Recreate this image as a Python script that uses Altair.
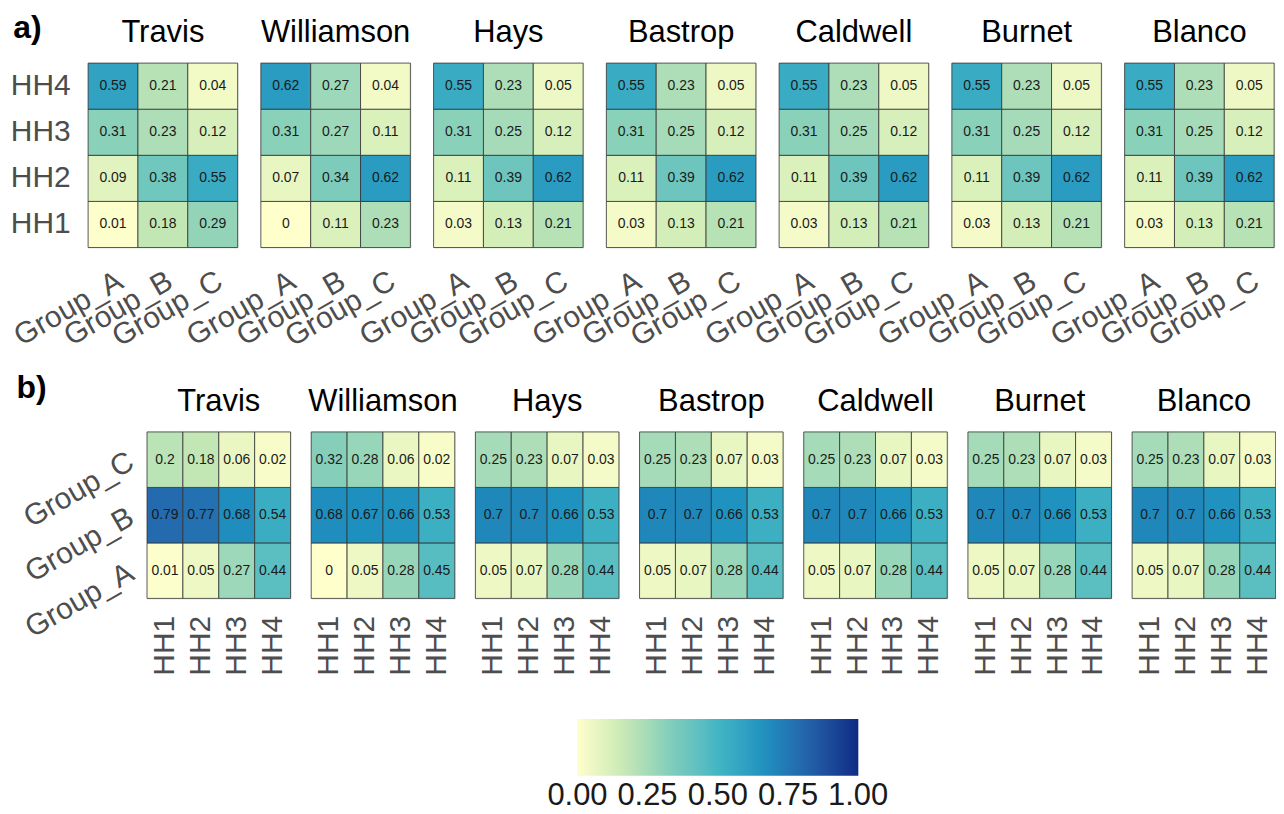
import altair as alt
import pandas as pd

counties = ["Travis", "Williamson", "Hays", "Bastrop", "Caldwell", "Burnet", "Blanco"]
hh_levels = ["HH1", "HH2", "HH3", "HH4"]
group_levels = ["Group_A", "Group_B", "Group_C"]

# Panel a): rows HH1..HH4, columns Group_A..Group_C
a_travis = [[0.01, 0.18, 0.29], [0.09, 0.38, 0.55], [0.31, 0.23, 0.12], [0.59, 0.21, 0.04]]
a_williamson = [[0.00, 0.11, 0.23], [0.07, 0.34, 0.62], [0.31, 0.27, 0.11], [0.62, 0.27, 0.04]]
a_hays = [[0.03, 0.13, 0.21], [0.11, 0.39, 0.62], [0.31, 0.25, 0.12], [0.55, 0.23, 0.05]]
a_bastrop = [[0.03, 0.13, 0.21], [0.11, 0.39, 0.62], [0.31, 0.25, 0.12], [0.55, 0.23, 0.05]]
a_caldwell = [[0.03, 0.13, 0.21], [0.11, 0.39, 0.62], [0.31, 0.25, 0.12], [0.55, 0.23, 0.05]]
a_burnet = [[0.03, 0.13, 0.21], [0.11, 0.39, 0.62], [0.31, 0.25, 0.12], [0.55, 0.23, 0.05]]
a_blanco = [[0.03, 0.13, 0.21], [0.11, 0.39, 0.62], [0.31, 0.25, 0.12], [0.55, 0.23, 0.05]]

# Panel b): rows Group_A..Group_C, columns HH1..HH4
b_travis = [[0.01, 0.05, 0.27, 0.44], [0.79, 0.77, 0.68, 0.54], [0.20, 0.18, 0.06, 0.02]]
b_williamson = [[0.00, 0.05, 0.28, 0.45], [0.68, 0.67, 0.66, 0.53], [0.32, 0.28, 0.06, 0.02]]
b_hays = [[0.05, 0.07, 0.28, 0.44], [0.70, 0.70, 0.66, 0.53], [0.25, 0.23, 0.07, 0.03]]
b_bastrop = [[0.05, 0.07, 0.28, 0.44], [0.70, 0.70, 0.66, 0.53], [0.25, 0.23, 0.07, 0.03]]
b_caldwell = [[0.05, 0.07, 0.28, 0.44], [0.70, 0.70, 0.66, 0.53], [0.25, 0.23, 0.07, 0.03]]
b_burnet = [[0.05, 0.07, 0.28, 0.44], [0.70, 0.70, 0.66, 0.53], [0.25, 0.23, 0.07, 0.03]]
b_blanco = [[0.05, 0.07, 0.28, 0.44], [0.70, 0.70, 0.66, 0.53], [0.25, 0.23, 0.07, 0.03]]

legend_ticks = [0.001, 0.25, 0.5, 0.75, 0.999]

# ColorBrewer YlGnBu (7 classes) used as a continuous gradient
palette_colors = ["#ffffcc", "#c7e9b4", "#7fcdbb", "#41b6c4", "#1d91c0", "#225ea8", "#0c2c84"]
palette_stops = [0, 1 / 6, 2 / 6, 3 / 6, 4 / 6, 5 / 6, 1]

a_tables = [a_travis, a_williamson, a_hays, a_bastrop, a_caldwell, a_burnet, a_blanco]
b_tables = [b_travis, b_williamson, b_hays, b_bastrop, b_caldwell, b_burnet, b_blanco]

rows_a = []
for county, tab in zip(counties, a_tables):
    for i, hh in enumerate(hh_levels):
        for j, g in enumerate(group_levels):
            rows_a.append({"county": county, "hh": hh, "group": g, "value": tab[i][j]})
df_a = pd.DataFrame(rows_a)

rows_b = []
for county, tab in zip(counties, b_tables):
    for i, g in enumerate(group_levels):
        for j, hh in enumerate(hh_levels):
            rows_b.append({"county": county, "hh": hh, "group": g, "value": tab[i][j]})
df_b = pd.DataFrame(rows_b)

FONT = "Liberation Sans"
AXIS_GREY = "#4D4D4D"
AX_FS = 30

legend = alt.Legend(
    orient="none", legendX=491, legendY=658, direction="horizontal",
    gradientLength=282, gradientThickness=57, gradientStrokeWidth=0,
    title=None, labelFontSize=31, labelColor="#1a1a1a", labelFont=FONT,
    values=legend_ticks, format=".2f", labelOffset=5, labelOverlap=False,
)
color = alt.Color("value:Q", scale=alt.Scale(domain=palette_stops, range=palette_colors,
                                              interpolate="lab"), legend=legend)

header = alt.Header(title=None, labelFontSize=31, labelColor="black", labelFont=FONT,
                    labelBaseline="alphabetic", labelPadding=-10)

first_cell = "datum.county == 'Travis' && datum.hh == 'HH4' && datum.group == 'Group_A'"
last_cell = "datum.county == 'Blanco' && datum.hh == 'HH4' && datum.group == 'Group_C'"
first_cell_b = "datum.county == 'Travis' && datum.hh == 'HH1' && datum.group == 'Group_C'"

# ---- row a ----
xa = alt.X("group:N", sort=group_levels, axis=alt.Axis(
    title=None, labelAngle=330, labelAlign="right", labelBaseline="top",
    labelFontSize=AX_FS, labelColor=AXIS_GREY, labelFont=FONT, labelPadding=18,
    ticks=False, tickSize=0, domain=False, grid=False, labelOverlap=False))
ya = alt.Y("hh:N", sort=list(reversed(hh_levels)), axis=alt.Axis(
    title=None, labelFontSize=AX_FS, labelColor=AXIS_GREY, labelFont=FONT, labelPadding=18,
    ticks=False, tickSize=0, domain=False, grid=False))

rect_a = alt.Chart().mark_rect(stroke="#333333", strokeWidth=0.8).encode(x=xa, y=ya, color=color)
text_a = alt.Chart().mark_text(fontSize=14, font=FONT, color="#1a1a1a").encode(
    x=xa, y=ya, text=alt.Text("value:Q", format=".2~f"))
tag_a = alt.Chart().transform_filter(first_cell).mark_text(
    text="a)", align="left", baseline="alphabetic", fontSize=32, fontWeight="bold",
    font=FONT, color="black").encode(x=alt.value(-75), y=alt.value(-25))
# invisible anchor that widens row a's right bound (used to offset row b when centred)
pad_a = alt.Chart().transform_filter(last_cell).mark_point(opacity=0, size=1).encode(
    x=alt.value(210.5), y=alt.value(10))

chart_a = alt.layer(rect_a, text_a, tag_a, pad_a, data=df_a).properties(width=150, height=185).facet(
    column=alt.Column("county:N", sort=counties, header=header),
    spacing=23.3, bounds="flush",
)

# ---- row b ----
xb = alt.X("hh:N", sort=hh_levels, axis=alt.Axis(
    title=None, labelAngle=270, labelAlign="right", labelBaseline="middle",
    labelFontSize=AX_FS, labelColor=AXIS_GREY, labelFont=FONT, labelPadding=17,
    ticks=False, tickSize=0, domain=False, grid=False, labelOverlap=False))
yb = alt.Y("group:N", sort=list(reversed(group_levels)), axis=alt.Axis(
    title=None, labelAngle=330, labelAlign="right", labelBaseline="middle",
    labelFontSize=AX_FS, labelColor=AXIS_GREY, labelFont=FONT, labelPadding=16,
    ticks=False, tickSize=0, domain=False, grid=False, labelOverlap=False))

rect_b = alt.Chart().mark_rect(stroke="#333333", strokeWidth=0.8).encode(x=xb, y=yb, color=color)
text_b = alt.Chart().mark_text(fontSize=14, font=FONT, color="#1a1a1a").encode(
    x=xb, y=yb, text=alt.Text("value:Q", format=".2~f"))
tag_b = alt.Chart().transform_filter(first_cell_b).mark_text(
    text="b)", align="left", baseline="alphabetic", fontSize=32, fontWeight="bold",
    font=FONT, color="black").encode(x=alt.value(-131), y=alt.value(-34))

chart_b = alt.layer(rect_b, text_b, tag_b, data=df_b).properties(width=144, height=167).facet(
    column=alt.Column("county:N", sort=counties, header=header),
    spacing=20.7, bounds="flush",
)

chart = alt.concat(chart_a, chart_b, columns=1, spacing=19, center=True).properties(
    padding={"left": 0, "top": 2, "right": -60, "bottom": 0}
).configure_view(strokeWidth=0).configure(background="white")

chart.save("out.html", embed_options={"renderer": "svg", "actions": False})
